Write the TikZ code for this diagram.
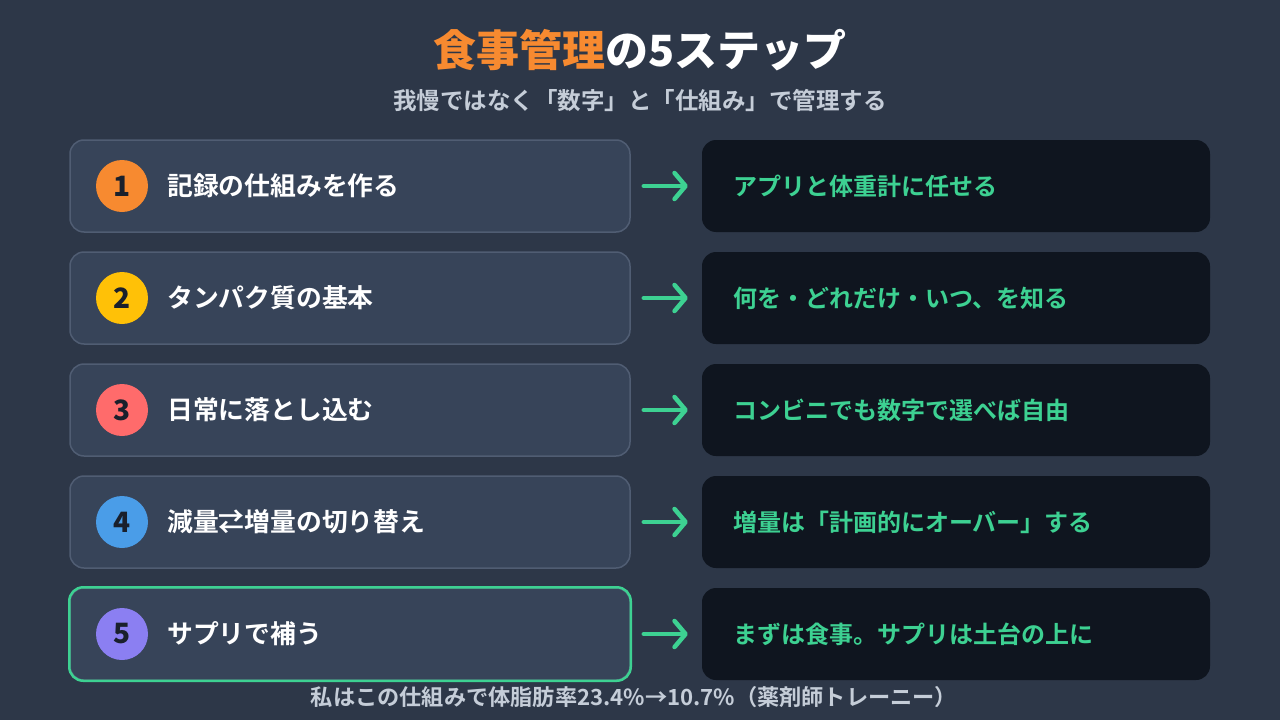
\documentclass[tikz,border=0pt]{standalone}
\usepackage{fontspec}
\setmainfont{Noto Sans CJK JP}[BoldFont={Noto Sans CJK JP Bold}]
\newfontfamily\heavyfont{Noto Sans CJK JP Black}
\usetikzlibrary{arrows.meta}
\definecolor{bgc}{HTML}{2D3748}
\definecolor{lfill}{HTML}{374459}
\definecolor{lborder}{HTML}{505D73}
\definecolor{rfill}{HTML}{0F151F}
\definecolor{grn}{HTML}{3DD192}
\definecolor{org}{HTML}{F78A30}
\definecolor{ylw}{HTML}{FFC107}
\definecolor{rd}{HTML}{FF6B6B}
\definecolor{blu}{HTML}{4A9DE8}
\definecolor{prp}{HTML}{8B7FF2}
\definecolor{subc}{HTML}{C5CDD8}
\definecolor{numc}{HTML}{1A202C}
\tikzset{
  leftbox/.style={draw=lborder, line width=1.5pt, fill=lfill, rounded corners=14pt, minimum width=560pt, minimum height=92pt, inner sep=0pt},
  rightbox/.style={fill=rfill, rounded corners=14pt, minimum width=508pt, minimum height=92pt, inner sep=0pt},
  badge/.style={circle, fill=#1, minimum size=52pt, inner sep=0pt, text=numc, font=\heavyfont\fontsize{28}{32}\selectfont},
  steptext/.style={anchor=west, inner sep=0pt, text=white, font=\bfseries\fontsize{25.8}{30}\selectfont},
  restext/.style={anchor=west, inner sep=0pt, text=grn, font=\bfseries\fontsize{24}{28}\selectfont},
  arr/.style={draw=grn, line width=4.5pt, line cap=round, shorten <=13pt, shorten >=14pt, -{Straight Barb[length=11pt,width=26pt,round]}}
}
\begin{document}
\begin{tikzpicture}[x=1pt,y=-1pt]
\fill[bgc] (0,0) rectangle (1280,720);
\useasboundingbox (0,0) rectangle (1280,720);
\node[inner sep=0pt, font=\heavyfont\fontsize{43}{48}\selectfont] (title) at (640,50) {\textcolor{org}{食事管理}\textcolor{white}{の5ステップ}};
\node[inner sep=0pt, text=subc, font=\bfseries\fontsize{23.5}{28}\selectfont] (sub) at (640,101) {我慢ではなく「数字」と「仕組み」で管理する};
\foreach \i/\c/\s/\r in {1/org/記録の仕組みを作る/アプリと体重計に任せる,
                         2/ylw/タンパク質の基本/何を・どれだけ・いつ、を知る,
                         3/rd/日常に落とし込む/コンビニでも数字で選べば自由,
                         4/blu/減量⇄増量の切り替え/増量は「計画的にオーバー」する,
                         5/prp/サプリで補う/まずは食事。サプリは土台の上に}{
  \pgfmathsetmacro{\yy}{186+112*(\i-1)}
  \node[leftbox] (l\i) at (350,\yy) {};
  \node[rightbox] (r\i) at (956,\yy) {};
  \node[badge=\c] (b\i) at (122,\yy) {\i};
  \node[steptext] (s\i) at (167,\yy) {\s};
  \node[restext] (t\i) at (733,\yy) {\r};
  \draw[arr] (l\i) -- (r\i);
}
\draw[draw=grn, line width=2.5pt, rounded corners=14pt] (l5.south west) rectangle (l5.north east);
\node[inner sep=0pt, text=subc, font=\bfseries\fontsize{22.2}{26}\selectfont] (foot) at (634,697) {私はこの仕組みで体脂肪率23.4\%→10.7\%（薬剤師トレーニー）};
\end{tikzpicture}
\end{document}
